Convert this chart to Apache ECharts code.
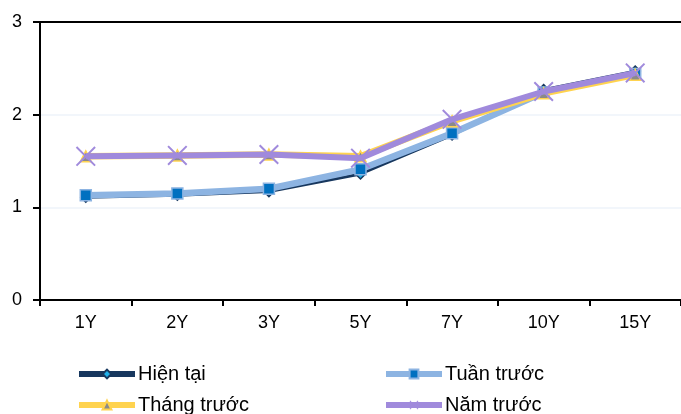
<!DOCTYPE html>
<html>
<head>
<meta charset="utf-8">
<script src="https://cdn.jsdelivr.net/npm/echarts@6/dist/echarts.min.js"></script>
<style>
  html, body { margin: 0; padding: 0; background: #fff; }
  #chart { width: 681px; height: 414px; }
</style>
</head>
<body>
<div id="chart"></div>
<script>
// Kỳ hạn
const categories = ['1Y', '2Y', '3Y', '5Y', '7Y', '10Y', '15Y'];

// Lợi suất (%) theo từng thời điểm
const hienTai   = [1.11, 1.13, 1.17, 1.36, 1.78, 2.27, 2.47];
const tuanTruoc = [1.13, 1.15, 1.20, 1.41, 1.80, 2.24, 2.44];
const thangTruoc = [1.55, 1.56, 1.57, 1.55, 1.93, 2.23, 2.43];
const namTruoc  = [1.55, 1.56, 1.57, 1.53, 1.95, 2.25, 2.45];

const yTicks = [0, 1, 2, 3];

const FONT = 'Liberation Sans, Arial, sans-serif';
const crossPath = 'path://M0,0.7L0.7,0L5,4.3L9.3,0L10,0.7L5.7,5L10,9.3L9.3,10L5,5.7L0.7,10L0,9.3L4.3,5Z';

// One legend block per entry, laid out in two columns
function legendItem(name, left, top, lineColor) {
  return {
    left: left, top: top, padding: 0, itemWidth: 56, itemHeight: 11, itemGap: 0,
    textStyle: { fontFamily: FONT, fontSize: 20, color: '#000', padding: [0, 0, 0, -2] },
    lineStyle: { width: 6, color: lineColor },
    data: [name]
  };
}

const chart = echarts.init(document.getElementById('chart'), null, { renderer: 'canvas' });

chart.setOption({
  animation: false,
  backgroundColor: '#ffffff',
  textStyle: { fontFamily: FONT },
  grid: { left: 40, top: 22, bottom: 114, width: 645, containLabel: false },
  legend: [
    legendItem('Hiện tại', 76, 364, '#17375E'),
    legendItem('Tuần trước', 383, 364, '#8DB4E2'),
    legendItem('Tháng trước', 76, 395, '#FFD34F'),
    legendItem('Năm trước', 383, 395, '#A08ADC')
  ],
  xAxis: [
    {
      type: 'category', data: categories, boundaryGap: true, position: 'bottom',
      axisLine: { lineStyle: { color: '#000', width: 2 } },
      axisTick: { show: true, alignWithLabel: false, length: 6, lineStyle: { color: '#000', width: 2 } },
      axisLabel: { fontFamily: FONT, fontSize: 18, color: '#000', margin: 14 },
      splitLine: { show: false }
    },
    {
      type: 'category', data: categories, position: 'top',
      axisLine: { lineStyle: { color: '#000', width: 2 } },
      axisTick: { show: false }, axisLabel: { show: false }, splitLine: { show: false }
    }
  ],
  yAxis: {
    type: 'value', min: yTicks[0], max: yTicks[yTicks.length - 1], interval: 1,
    axisLine: { show: true, lineStyle: { color: '#000', width: 2 } },
    axisTick: { show: true, length: 7, lineStyle: { color: '#000', width: 2 } },
    axisLabel: { fontFamily: FONT, fontSize: 18, color: '#000', margin: 18 },
    splitLine: { show: true, lineStyle: { color: '#EEF3FA', width: 1.5 } }
  },
  series: [
    {
      name: 'Hiện tại', type: 'line', data: hienTai, z: 2,
      symbol: 'diamond', symbolSize: 10,
      lineStyle: { color: '#17375E', width: 3 },
      itemStyle: { color: '#1FB0EA', borderColor: '#17375E', borderWidth: 1.5 }
    },
    {
      name: 'Tuần trước', type: 'line', data: tuanTruoc, z: 3,
      symbol: 'rect', symbolSize: 11,
      lineStyle: { color: '#8DB4E2', width: 6.5 },
      itemStyle: { color: '#0070C0', borderColor: '#8DB4E2', borderWidth: 1.5 }
    },
    {
      name: 'Tháng trước', type: 'line', data: thangTruoc, z: 4,
      symbol: 'triangle', symbolSize: 11,
      lineStyle: { color: '#FFD34F', width: 6.5 },
      itemStyle: { color: '#8A8A8A', borderColor: '#FFD34F', borderWidth: 1.5 }
    },
    {
      name: 'Năm trước', type: 'line', data: namTruoc, z: 5,
      symbol: crossPath, symbolSize: 20,
      lineStyle: { color: '#A08ADC', width: 6 },
      itemStyle: { color: '#A08ADC' }
    }
  ]
});
</script>
</body>
</html>
